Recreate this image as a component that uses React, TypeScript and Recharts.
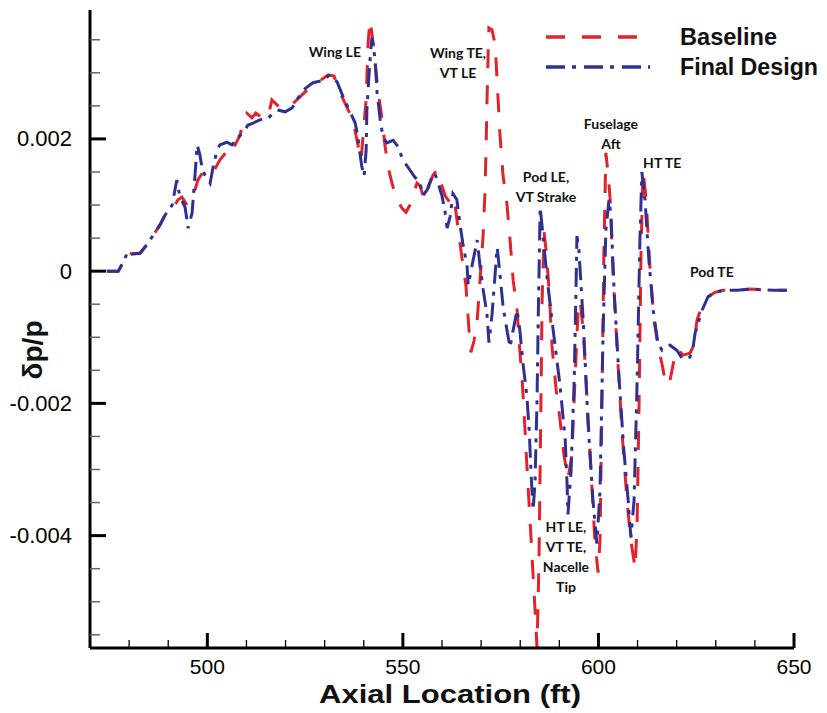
import React from 'react';
import { LineChart, Line, XAxis, YAxis, Legend, ReferenceDot } from 'recharts';

// x: axial location (ft), y: dp/p in units of 1e-3
const Y_UNIT = 1e-3;

const BASELINE: [number, number][] = [
  [474.3, 0], [477.2, 0], [478.4, 0.12], [479.7, 0.3], [480.7, 0.26], [482.8, 0.27], [484.8, 0.42],
  [487.9, 0.7], [489.4, 0.88], [491.2, 0.95], [492.5, 1.08], [493.5, 1.12], [494.8, 1.0], [496.1, 1.08],
  [497.6, 1.38], [498.9, 1.5], [500.2, 1.45], [501.5, 1.5], [503.2, 1.68], [504.8, 1.8], [505.8, 1.97],
  [507.1, 1.91], [508.4, 2.06], [509.1, 2.26], [510.1, 2.39], [511.4, 2.32], [512.4, 2.39], [514.0, 2.32],
  [515.5, 2.32], [516.5, 2.59], [518.6, 2.47], [520.6, 2.47], [522.9, 2.59], [525.5, 2.74], [528.3, 2.86],
  [530.9, 2.97], [532.4, 2.95], [533.4, 2.77], [536.0, 2.44], [537.2, 2.29], [538.5, 1.91], [539.3, 1.68],
  [539.8, 2.03], [540.6, 2.59], [541.1, 3.45], [541.6, 3.8], [542.4, 3.45], [542.9, 3.15], [543.6, 2.74],
  [544.7, 2.29], [545.4, 1.91], [546.2, 1.58], [547.2, 1.33], [548.5, 1.08], [549.8, 0.95], [550.8, 0.89],
  [551.8, 1.0], [552.8, 1.18], [553.6, 1.33], [554.4, 1.29], [555.1, 1.15], [555.9, 1.08], [556.7, 1.3],
  [557.7, 1.45], [558.7, 1.53], [559.5, 1.38], [560.8, 1.14], [562.1, 1.03], [563.1, 1.11], [564.1, 0.65],
  [565.1, 0.2], [566.1, -0.21], [566.9, -0.89], [567.4, -1.23], [568.2, -1.05], [569.0, -0.74], [569.7, -0.15],
  [570.5, 0.53], [571.0, 1.21], [571.3, 1.95], [571.5, 2.56], [571.8, 3.3], [572.0, 3.68], [572.8, 3.65],
  [573.6, 3.42], [574.1, 2.88], [574.8, 2.08], [575.6, 1.45], [576.6, 1.02], [577.4, 0.47], [578.2, -0.14],
  [579.2, -0.59], [579.7, -1.05], [580.5, -1.65], [581.2, -2.38], [581.7, -2.94], [582.3, -3.55], [582.8, -4.08],
  [583.3, -4.61], [583.8, -5.14], [584.3, -5.7], [584.8, -4.38], [585.3, -1.95], [585.6, -0.44], [586.1, 0.59],
  [586.6, 0.32], [587.4, -0.29], [588.1, -1.12], [589.2, -1.8], [590.2, -2.26], [591.2, -2.79], [592.2, -3.14],
  [593.2, -2.79], [594.0, -1.65], [594.8, -0.59], [595.3, -0.44], [596.1, -0.89], [597.1, -1.95], [598.1, -3.02],
  [599.1, -4.08], [599.9, -4.56], [600.4, -4.08], [600.9, -1.95], [601.4, 0.32], [601.9, 1.79], [602.5, 1.45],
  [603.0, 1.08], [603.7, 0.02], [604.8, -1.2], [606.0, -2.41], [607.3, -3.47], [608.3, -4.08], [609.4, -4.5],
  [609.9, -3.77], [610.4, -1.95], [610.9, 0.32], [611.4, 1.53], [612.2, 1.08], [613.2, 0.02], [614.2, -0.74],
  [615.2, -1.12], [616.3, -1.42], [617.3, -1.73], [618.3, -1.65], [619.3, -1.35], [620.3, -1.17], [621.6, -1.27],
  [623.4, -1.24], [624.4, -1.12], [625.2, -0.74], [626.5, -0.52], [628.0, -0.39], [629.8, -0.32], [631.9, -0.29],
  [635.4, -0.29], [638.8, -0.27], [644.6, -0.29], [648.2, -0.29],
];

const FINAL_DESIGN: [number, number][] = [
  [474.3, 0], [477.2, 0], [478.4, 0.12], [479.7, 0.3], [480.7, 0.26], [482.8, 0.27], [484.8, 0.42],
  [487.9, 0.7], [489.2, 0.85], [491.0, 1.0], [492.2, 1.38], [493.0, 1.12], [494.3, 0.97], [495.1, 0.65],
  [496.1, 0.88], [496.8, 1.41], [497.4, 1.91], [498.1, 1.76], [498.6, 1.58], [499.4, 1.45], [500.7, 1.33],
  [501.5, 1.58], [502.5, 1.83], [503.2, 1.91], [505.0, 1.95], [506.3, 1.91], [507.8, 2.02], [509.1, 2.09],
  [510.4, 2.21], [511.7, 2.24], [513.5, 2.29], [515.3, 2.3], [517.8, 2.44], [519.9, 2.41], [521.7, 2.47],
  [523.2, 2.62], [524.5, 2.74], [527.0, 2.85], [529.3, 2.88], [531.4, 2.97], [533.2, 2.86], [534.7, 2.64],
  [536.5, 2.41], [537.8, 2.24], [538.5, 2.03], [539.0, 1.79], [539.5, 1.58], [540.1, 1.44], [540.6, 1.83],
  [540.8, 2.44], [541.3, 2.94], [541.85, 3.39], [542.1, 3.53], [542.9, 3.2], [543.4, 2.7], [544.2, 2.29],
  [544.9, 2.03], [545.9, 1.94], [547.5, 1.98], [548.8, 1.88], [550.0, 1.68], [551.8, 1.53], [553.1, 1.42],
  [554.4, 1.33], [555.1, 1.14], [556.2, 1.23], [557.4, 1.42], [558.2, 1.48], [559.0, 1.33], [560.0, 1.14],
  [560.8, 0.89], [561.3, 0.65], [562.1, 0.83], [562.8, 1.17], [563.8, 1.08], [564.6, 0.71], [565.4, 0.39],
  [566.4, 0.09], [566.7, -0.21], [567.7, 0.09], [569.0, 0.47], [569.7, 0.09], [570.5, -0.27], [571.5, -0.65],
  [572.0, -1.08], [572.8, -0.65], [573.6, -0.03], [574.1, 0.36], [574.8, -0.03], [575.6, -0.53], [576.6, -0.89],
  [577.4, -1.15], [578.2, -0.89], [579.2, -0.59], [579.9, -0.89], [580.7, -1.39], [581.7, -1.89], [582.3, -2.41],
  [582.8, -3.09], [583.3, -3.62], [583.8, -3.17], [584.3, -1.95], [584.6, -0.74], [585.1, 0.97], [585.8, 0.55],
  [586.9, -0.12], [588.4, -0.88], [590.2, -1.74], [591.5, -2.55], [592.0, -3.26], [592.2, -3.68], [593.0, -3.02],
  [593.8, -1.65], [594.3, -0.14], [594.5, 0.53], [595.0, 0.32], [596.1, -0.74], [597.3, -2.26], [598.6, -3.47],
  [599.6, -4.12], [600.4, -3.32], [601.2, -0.89], [601.9, 0.62], [602.7, 1.08], [603.2, 0.85], [604.0, -0.29],
  [605.3, -1.65], [606.5, -2.71], [607.6, -3.47], [608.3, -4.03], [609.1, -3.47], [609.9, -1.65], [610.6, 0.47],
  [611.1, 1.5], [611.9, 1.08], [612.9, 0.17], [614.0, -0.59], [615.2, -1.09], [616.3, -1.2], [618.3, -1.12],
  [620.1, -1.2], [621.4, -1.32], [623.4, -1.3], [624.2, -1.15], [624.7, -0.94], [626.5, -0.59], [628.0, -0.39],
  [629.8, -0.32], [631.9, -0.29], [635.4, -0.29], [638.8, -0.27], [644.6, -0.29], [648.2, -0.29],
];

const X_TICKS = [480, 490, 500, 510, 520, 530, 540, 550, 560, 570, 580, 590, 600, 610, 620, 630, 640, 650];
const X_LABELED = [500, 550, 600, 650];
const Y_TICKS_E3 = [-5.5, -5, -4.5, -4, -3.5, -3, -2.5, -2, -1.5, -1, -0.5, 0, 0.5, 1, 1.5, 2, 2.5, 3, 3.5];
const Y_LABELS: [number, string][] = [[-4, '-0.004'], [-2, '-0.002'], [0, '0'], [2, '0.002']];

const ANNOTATIONS: { x: number; y: number; lines: string[] }[] = [
  { x: 532.6, y: 3.32, lines: ['Wing LE'] },
  { x: 564.1, y: 3.15, lines: ['Wing TE,', 'VT LE'] },
  { x: 586.6, y: 1.28, lines: ['Pod LE,', 'VT Strake'] },
  { x: 603.2, y: 2.08, lines: ['Fuselage', 'Aft'] },
  { x: 616.3, y: 1.65, lines: ['HT TE'] },
  { x: 629.0, y: 0.0, lines: ['Pod TE'] },
  { x: 591.7, y: -4.31, lines: ['HT LE,', 'VT TE,', 'Nacelle', 'Tip'] },
];

const RED = '#e2232b';
const BLUE = '#2e3192';
const RED_DASH = '19 17';
const BLUE_DASH = '19 7 4 8';
const SANS = '"Liberation Sans", Arial, sans-serif';
const ANN_FONT = 'Lato, "Open Sans", sans-serif';

const baselineData = BASELINE.map(([x, y]) => ({ x, y: y * Y_UNIT }));
const finalData = FINAL_DESIGN.map(([x, y]) => ({ x, y: y * Y_UNIT }));
const yTicks = Y_TICKS_E3.map((v) => v * Y_UNIT);

const XTick = (props: any) => {
  const { x, y, payload } = props;
  const v = payload.value;
  const major = X_LABELED.includes(v);
  return (
    <g>
      <line x1={x} x2={x} y1={y} y2={y - (major ? 15 : 8)} stroke="#000" strokeWidth={major ? 3 : 1.3} />
      {major && (
        <text x={x} y={y + 18} textAnchor="middle" dominantBaseline="central" fontFamily={SANS} fontSize={21} fill="#000">
          {v}
        </text>
      )}
    </g>
  );
};

const YTick = (props: any) => {
  const { x, y, payload } = props;
  const e3 = payload.value / Y_UNIT;
  const lab = Y_LABELS.find(([v]) => Math.abs(v - e3) < 1e-6);
  return (
    <g>
      <line x1={x} x2={x + (lab ? 16 : 10)} y1={y} y2={y} stroke={lab ? '#000' : '#666'} strokeWidth={lab ? 3 : 1.5} />
      {lab && (
        <text x={x - 18} y={y} textAnchor="end" dominantBaseline="central" fontFamily={SANS} fontSize={22} fill="#000">
          {lab[1]}
        </text>
      )}
    </g>
  );
};

const renderLegend = () => (
  <svg width={285} height={70} style={{ overflow: 'visible', display: 'block' }}>
    <line x1={8} x2={102} y1={19} y2={19} stroke={RED} strokeWidth={3.5} strokeDasharray={RED_DASH} />
    <line x1={8} x2={112} y1={49} y2={49} stroke={BLUE} strokeWidth={3.5} strokeDasharray={BLUE_DASH} />
    <text x={142} y={19} dominantBaseline="central" fontFamily={SANS} fontWeight="bold" fontSize={23} fill="#111" textLength={97} lengthAdjust="spacingAndGlyphs">
      Baseline
    </text>
    <text x={142} y={49} dominantBaseline="central" fontFamily={SANS} fontWeight="bold" fontSize={23} fill="#111" textLength={138} lengthAdjust="spacingAndGlyphs">
      Final Design
    </text>
  </svg>
);

const makeAnnotationShape = (lines: string[]) => (p: any) => {
  const { cx, cy } = p;
  const lh = 20;
  const top = cy - ((lines.length - 1) * lh) / 2;
  return (
    <g>
      {lines.map((t, i) => (
        <text
          key={i}
          x={cx}
          y={top + i * lh}
          textAnchor="middle"
          dominantBaseline="central"
          fontFamily={ANN_FONT}
          fontWeight="bold"
          fontSize={14}
          fill="#111"
        >
          {t}
        </text>
      ))}
    </g>
  );
};

export default function App() {
  return (
    <div style={{ width: 819, height: 700, position: 'relative' }}>
      <LineChart width={819} height={700} margin={{ top: 2, right: 33, left: 0, bottom: 0 }}>
        <XAxis
          dataKey="x"
          type="number"
          domain={[470, 650]}
          allowDataOverflow
          ticks={X_TICKS}
          interval={0}
          tickSize={0}
          tickMargin={0}
          tickLine={false}
          tick={<XTick />}
          height={60}
          axisLine={{ stroke: '#000', strokeWidth: 3 }}
          label={{
            content: (p: any) => {
              const vb = p.viewBox;
              return (
                <text
                  x={vb.x + vb.width / 2 + 8}
                  y={vb.y + 46}
                  textAnchor="middle"
                  dominantBaseline="central"
                  fontFamily={SANS}
                  fontWeight="bold"
                  fontSize={25}
                  fill="#111"
                  textLength={262}
                  lengthAdjust="spacingAndGlyphs"
                >
                  Axial Location (ft)
                </text>
              );
            },
          }}
        />
        <YAxis
          dataKey="y"
          type="number"
          domain={[-0.0057, 0.00395]}
          allowDataOverflow
          ticks={yTicks}
          interval={0}
          tickSize={0}
          tickMargin={0}
          tickLine={false}
          tick={<YTick />}
          width={82}
          axisLine={{ stroke: '#000', strokeWidth: 3 }}
          label={{
            content: () => (
              <text
                x={24}
                y={342}
                transform="rotate(-90 24 342)"
                textAnchor="middle"
                dominantBaseline="central"
                fontFamily={SANS}
                fontWeight="bold"
                fontSize={28}
                fill="#111"
              >
                δp/p
              </text>
            ),
          }}
        />
        <Legend
          layout="horizontal"
          verticalAlign="middle"
          align="center"
          content={renderLegend}
          wrapperStyle={{ left: 530, top: 10, width: 285, height: 70 }}
        />
        <Line
          data={baselineData}
          dataKey="y"
          name="Baseline"
          type="linear"
          stroke={RED}
          strokeWidth={3}
          strokeDasharray={RED_DASH}
          dot={false}
          activeDot={false}
          isAnimationActive={false}
        />
        <Line
          data={finalData}
          dataKey="y"
          name="Final Design"
          type="linear"
          stroke={BLUE}
          strokeWidth={3}
          strokeDasharray={BLUE_DASH}
          dot={false}
          activeDot={false}
          isAnimationActive={false}
        />
        {ANNOTATIONS.map((a, i) => (
          <ReferenceDot
            key={i}
            x={a.x}
            y={a.y * Y_UNIT}
            r={0}
            ifOverflow="visible"
            shape={makeAnnotationShape(a.lines)}
          />
        ))}
      </LineChart>
    </div>
  );
}
